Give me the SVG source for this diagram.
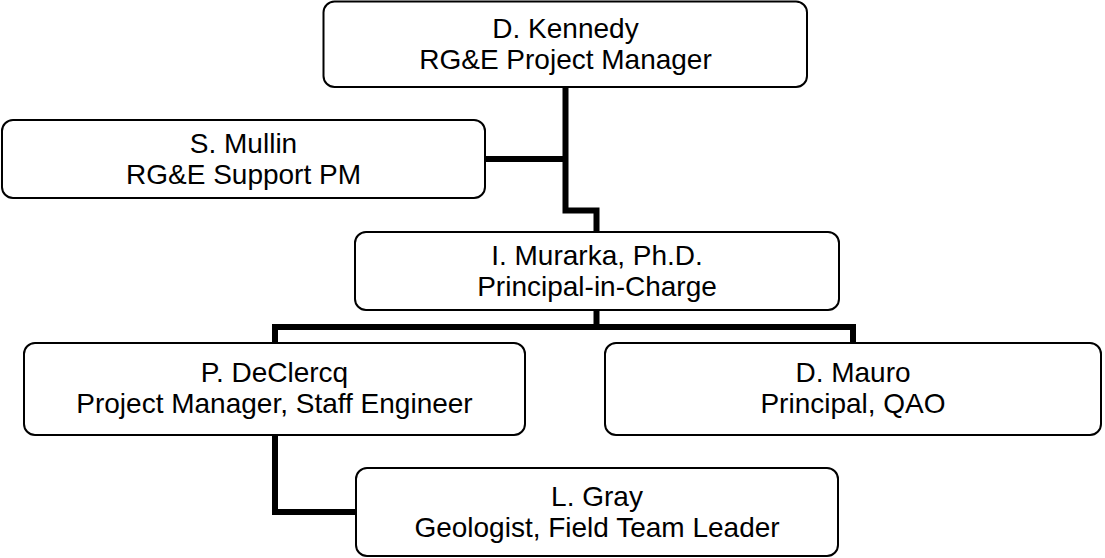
<svg xmlns="http://www.w3.org/2000/svg" width="1105" height="558" viewBox="0 0 1105 558">
<style>
.box{fill:#fff;stroke:#000;stroke-width:2}
.lbl{font-family:"Liberation Sans",Arial,sans-serif;font-size:28px;fill:#000;text-anchor:middle}
.conn{fill:none;stroke:#000;stroke-width:6;stroke-linejoin:miter;stroke-linecap:butt}
</style>
<rect width="1105" height="558" fill="#fff"/>
<g id="connectors">
<polyline class="conn" points="565.5,87 565.5,210.5 596.5,210.5 596.5,232"/>
<line class="conn" x1="485" y1="159" x2="565.5" y2="159"/>
<line class="conn" x1="596.5" y1="310" x2="596.5" y2="327"/>
<polyline class="conn" points="275,343 275,327 853,327 853,343"/>
<polyline class="conn" points="275,435 275,512 356,512"/>
</g>
<g id="kennedy">
<rect class="box" x="323.5" y="1.5" width="483.5" height="85.5" rx="11"/>
<text class="lbl" x="565.5" y="38">D. Kennedy</text>
<text class="lbl" x="565.5" y="69">RG&amp;E Project Manager</text>
</g>
<g id="mullin">
<rect class="box" x="2" y="120" width="483" height="78" rx="11"/>
<text class="lbl" x="243.5" y="153">S. Mullin</text>
<text class="lbl" x="243.5" y="184">RG&amp;E Support PM</text>
</g>
<g id="murarka">
<rect class="box" x="355" y="232" width="484" height="78" rx="11"/>
<text class="lbl" x="597" y="265">I. Murarka, Ph.D.</text>
<text class="lbl" x="597" y="296">Principal-in-Charge</text>
</g>
<g id="declercq">
<rect class="box" x="24" y="343" width="501" height="92" rx="11"/>
<text class="lbl" x="274.5" y="382">P. DeClercq</text>
<text class="lbl" x="274.5" y="413">Project Manager, Staff Engineer</text>
</g>
<g id="mauro">
<rect class="box" x="605" y="343" width="496" height="92" rx="11"/>
<text class="lbl" x="853" y="382">D. Mauro</text>
<text class="lbl" x="853" y="413">Principal, QAO</text>
</g>
<g id="gray">
<rect class="box" x="356" y="468" width="482" height="88" rx="11"/>
<text class="lbl" x="597" y="506">L. Gray</text>
<text class="lbl" x="597" y="537">Geologist, Field Team Leader</text>
</g>
</svg>
